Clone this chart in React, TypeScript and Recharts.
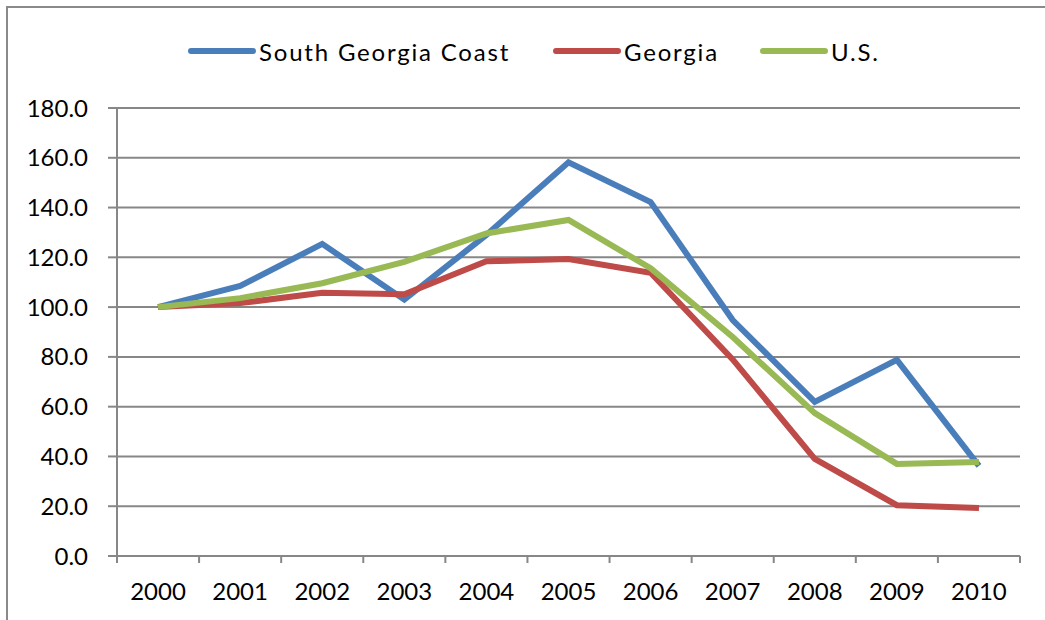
import { LineChart, Line, XAxis, YAxis, CartesianGrid } from "recharts";

const years = ["2000", "2001", "2002", "2003", "2004", "2005", "2006", "2007", "2008", "2009", "2010"];
const southGeorgiaCoast = [100, 108.5, 125.4, 103, 129, 158.2, 142.2, 94.8, 61.9, 78.8, 36.2];
const georgia = [100, 101.6, 105.8, 105.2, 118.4, 119.3, 113.8, 79, 39, 20.4, 19.3];
const us = [100, 103.6, 109.6, 118.2, 129.6, 135, 115.6, 88, 57.4, 37, 37.8];
const yTicks = [0, 20, 40, 60, 80, 100, 120, 140, 160, 180];

const series = [
  { key: "sgc", name: "South Georgia Coast", color: "#4A7EBB", values: southGeorgiaCoast },
  { key: "ga", name: "Georgia", color: "#BE4B48", values: georgia },
  { key: "us", name: "U.S.", color: "#98B954", values: us },
];

const chartData = years.map((year, i) => ({
  year,
  sgc: series[0].values[i],
  ga: series[1].values[i],
  us: series[2].values[i],
}));

const GRID = "#878787";
const FONT = "Lato, 'Open Sans', sans-serif";
const STEP = (1020 - 117) / years.length;

const legendLeft = [188, 553, 760];

const YearTick = (props: any) => {
  const { x, y, payload, index } = props;
  const half = STEP / 2;
  return (
    <g>
      <line x1={x - half} y1={y} x2={x - half} y2={y + 7} stroke={GRID} strokeWidth={2} />
      {index === years.length - 1 && (
        <line x1={x + half} y1={y} x2={x + half} y2={y + 7} stroke={GRID} strokeWidth={2} />
      )}
      <text x={x} y={y + 44} textAnchor="middle" fontSize={24} fill="#000" fontFamily={FONT}>
        {payload.value}
      </text>
    </g>
  );
};

export default function App() {
  return (
    <div style={{ position: "absolute", left: 0, top: 0, width: 1045, height: 620, background: "#fff", fontFamily: FONT }}>
      {/* chart frame: only top and left edges visible in the crop */}
      <div
        style={{
          position: "absolute",
          left: 6,
          top: 6,
          width: 1045,
          height: 620,
          borderTop: "2px solid #8a8a8a",
          borderLeft: "2px solid #8a8a8a",
        }}
      />

      {/* Legend */}
      {series.map((s, i) => (
        <div
          key={s.key}
          style={{
            position: "absolute",
            left: legendLeft[i],
            top: 34,
            height: 34,
            display: "flex",
            alignItems: "center",
            fontSize: 24,
            color: "#000",
            letterSpacing: 1.8,
            whiteSpace: "nowrap",
          }}
        >
          <svg width={68} height={10} style={{ marginRight: 3 }}>
            <line x1={3} y1={5} x2={65} y2={5} stroke={s.color} strokeWidth={6} strokeLinecap="round" />
          </svg>
          <span>{s.name}</span>
        </div>
      ))}

      <div style={{ position: "absolute", left: 0, top: 0 }}>
        <LineChart width={1045} height={620} data={chartData} margin={{ top: 108, right: 25, left: 0, bottom: 0 }}>
          <CartesianGrid vertical={false} stroke={GRID} strokeWidth={2} />
          <XAxis
            dataKey="year"
            height={64}
            padding={{ left: STEP / 2, right: STEP / 2 }}
            axisLine={{ stroke: GRID, strokeWidth: 2 }}
            tickLine={false}
            tickSize={0}
            tickMargin={0}
            interval={0}
            tick={<YearTick />}
          />
          <YAxis
            width={117}
            domain={[0, 180]}
            ticks={yTicks}
            interval={0}
            tickFormatter={(v: number) => v.toFixed(1)}
            axisLine={{ stroke: GRID, strokeWidth: 2 }}
            tickLine={{ stroke: GRID, strokeWidth: 2 }}
            tickSize={9}
            tickMargin={20}
            tick={{ fontSize: 24, fill: "#000", fontFamily: FONT }}
          />
          {series.map((s) => (
            <Line
              key={s.key}
              dataKey={s.key}
              name={s.name}
              type="linear"
              stroke={s.color}
              strokeWidth={6}
              dot={false}
              activeDot={false}
              isAnimationActive={false}
            />
          ))}
        </LineChart>
      </div>
    </div>
  );
}
